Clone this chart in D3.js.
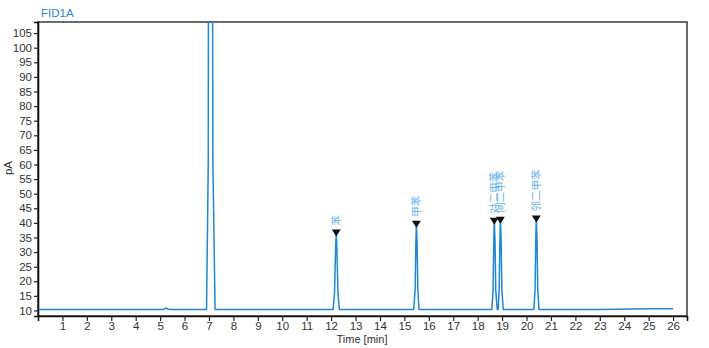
<!DOCTYPE html>
<html><head><meta charset="utf-8">
<script src="https://cdn.jsdelivr.net/npm/d3@7"></script>
<style>
html,body{margin:0;padding:0;background:#fff;}
svg{display:block;font-family:"Liberation Sans",Arial,sans-serif;}
</style></head>
<body><svg id="c" width="709" height="348"></svg>
<script>
// Trace (time in min, signal in pA)
const times = [0.05, 1.0, 2.0, 3.0, 4.0, 5.1, 5.2, 5.25, 5.3, 5.4, 6.9, 6.97, 6.99, 7.13, 7.16, 7.25,
  12.08, 12.14, 12.18, 12.21, 12.24, 12.28, 12.34,
  15.38, 15.44, 15.47, 15.49, 15.52, 15.55, 15.6,
  18.58, 18.63, 18.66, 18.68, 18.71, 18.74, 18.8,
  18.84, 18.88, 18.91, 18.93, 18.96, 18.99, 19.05,
  20.3, 20.35, 20.38, 20.4, 20.43, 20.46, 20.51,
  22.0, 23.0, 24.4, 25.0, 26.0];
const signal = [10.35, 10.35, 10.35, 10.33, 10.33, 10.33, 10.6, 10.9, 10.5, 10.33, 10.33, 60, 200, 200, 60, 10.35,
  10.3, 16, 30, 37.0, 30, 16, 10.3,
  10.3, 17, 33, 40.0, 33, 17, 10.3,
  10.3, 17, 34, 41.1, 34, 17, 10.4,
  10.3, 17, 34, 41.4, 34, 17, 10.3,
  10.3, 17, 34, 41.8, 34, 17, 10.3,
  10.35, 10.35, 10.5, 10.6, 10.6];

const peakNames = ["苯", "甲苯", "对二甲苯", "间二甲苯", "邻二甲苯"];
const peakTimes = [12.21, 15.49, 18.68, 18.93, 20.40];
const peakHeights = [37.0, 40.0, 41.1, 41.4, 41.8];

const yTicks = [10,15,20,25,30,35,40,45,50,55,60,65,70,75,80,85,90,95,100,105];
const xTicks = [1,2,3,4,5,6,7,8,9,10,11,12,13,14,15,16,17,18,19,20,21,22,23,24,25,26];

const svg = d3.select("#c");
const L = 38, R = 687, T = 22, B = 316;
const x = d3.scaleLinear().domain([0, 26.57]).range([L, R]);
const y = d3.scaleLinear().domain([8.1, 108.8]).range([B, T]);
const blue = "#1f88d4";

svg.append("defs").append("clipPath").attr("id","clip")
  .append("rect").attr("x",L).attr("y",T).attr("width",R-L).attr("height",B-T);

// frame
svg.append("rect").attr("x",L).attr("y",T).attr("width",R-L).attr("height",B-T)
  .attr("fill","none").attr("stroke","#3a3a3a").attr("stroke-width",1.5);

// trace
const pts = times.map((t,i)=>[t, signal[i]]);
svg.append("path").datum(pts)
  .attr("clip-path","url(#clip)")
  .attr("fill","none").attr("stroke",blue).attr("stroke-width",1.5)
  .attr("stroke-linejoin","round")
  .attr("d", d3.line().x(d=>x(d[0])).y(d=>y(d[1])));

// axes
const yAxis = d3.axisLeft(y).tickValues(yTicks).tickSize(4).tickPadding(2).tickFormat(d3.format("d"));
const gy = svg.append("g").attr("transform",`translate(${L},0)`).call(yAxis);
const xAxis = d3.axisBottom(x).tickValues(xTicks).tickSize(5).tickPadding(1).tickFormat(d3.format("d"));
const gx = svg.append("g").attr("transform",`translate(0,${B})`).call(xAxis);
[gy,gx].forEach(g=>{
  g.select(".domain").attr("stroke","#111").attr("stroke-width",1.6);
  g.selectAll(".tick line").attr("stroke","#222").attr("stroke-width",1.2);
  g.selectAll(".tick text").attr("fill","#333").attr("font-size",11.5)
   .attr("font-family","\"Liberation Sans\",Arial,sans-serif");
});

// peak markers
peakTimes.forEach((t,i)=>{
  const px = x(t), py = y(peakHeights[i]);
  svg.append("path")
    .attr("d", `M${px-4.5},${py-2} L${px+4.5},${py-2} L${px},${py+5} Z`)
    .attr("fill","#111");
  svg.append("text")
    .attr("transform", `translate(${px+3.5},${py-6}) rotate(-90)`)
    .attr("font-size",10.5).attr("fill","#6ab5ea")
    .attr("font-family","\"Noto Sans CJK SC\",sans-serif")
    .text(peakNames[i]);
});

// labels
svg.append("text").attr("x",41).attr("y",16.5).attr("font-size",11.5).attr("fill",blue).text("FID1A");
svg.append("text").attr("x",362).attr("y",343).attr("text-anchor","middle")
  .attr("font-size",11).attr("fill","#333").text("Time [min]");
svg.append("text").attr("transform","translate(12,168) rotate(-90)").attr("text-anchor","middle")
  .attr("font-size",11.5).attr("fill","#333").text("pA");
</script></body></html>
